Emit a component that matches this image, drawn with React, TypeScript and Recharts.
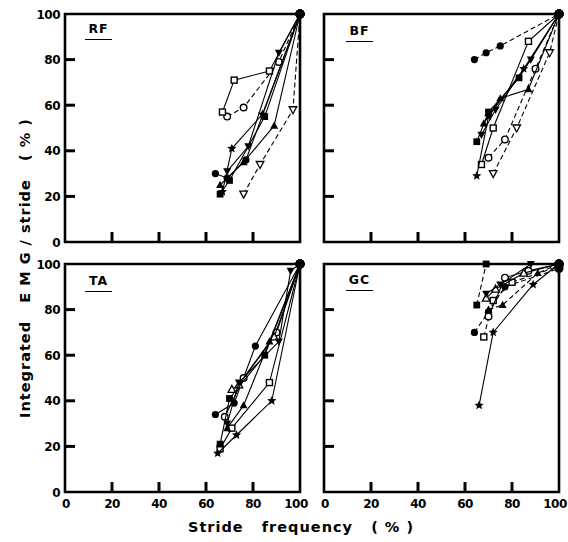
import React from 'react';
import { ScatterChart, Scatter, XAxis, YAxis, ReferenceArea } from 'recharts';

type P = { x: number; y: number };

const xTicks = [0, 20, 40, 60, 80, 100];
const yTicks = [0, 20, 40, 60, 80, 100];
const panelNames = ['RF', 'BF', 'TA', 'GC'];

// ---- RF ----
const rfFilledCircle: P[] = [{ x: 64, y: 30 }, { x: 69, y: 28 }, { x: 77, y: 36 }, { x: 100, y: 100 }];
const rfOpenCircle: P[] = [{ x: 69, y: 55 }, { x: 76, y: 59 }, { x: 91, y: 79 }, { x: 100, y: 100 }];
const rfOpenSquare: P[] = [{ x: 67, y: 57 }, { x: 72, y: 71 }, { x: 87, y: 75 }, { x: 100, y: 100 }];
const rfOpenTriDown: P[] = [{ x: 76, y: 21 }, { x: 83, y: 34 }, { x: 97, y: 58 }, { x: 100, y: 100 }];
const rfStar: P[] = [{ x: 67, y: 22 }, { x: 71, y: 41 }, { x: 84, y: 56 }, { x: 100, y: 100 }];
const rfFilledTri: P[] = [{ x: 66, y: 25 }, { x: 76, y: 35 }, { x: 89, y: 51 }, { x: 100, y: 100 }];
const rfFilledSquare: P[] = [{ x: 66, y: 21 }, { x: 70, y: 27 }, { x: 85, y: 55 }, { x: 100, y: 100 }];
const rfFilledTriDown: P[] = [{ x: 69, y: 31 }, { x: 78, y: 42 }, { x: 91, y: 83 }, { x: 100, y: 100 }];

// ---- BF ----
const bfFilledCircle: P[] = [{ x: 64, y: 80 }, { x: 69, y: 83 }, { x: 75, y: 86 }, { x: 100, y: 100 }];
const bfOpenSquare: P[] = [{ x: 67, y: 34 }, { x: 72, y: 50 }, { x: 87, y: 88 }, { x: 100, y: 100 }];
const bfOpenCircle: P[] = [{ x: 70, y: 37 }, { x: 77, y: 45 }, { x: 90, y: 76 }, { x: 100, y: 100 }];
const bfOpenTriDown: P[] = [{ x: 72, y: 30 }, { x: 82, y: 50 }, { x: 96, y: 83 }, { x: 100, y: 100 }];
const bfStar: P[] = [{ x: 65, y: 29 }, { x: 70, y: 55 }, { x: 85, y: 76 }, { x: 100, y: 100 }];
const bfFilledTri: P[] = [{ x: 68, y: 52 }, { x: 75, y: 63 }, { x: 87, y: 67 }, { x: 100, y: 100 }];
const bfFilledSquare: P[] = [{ x: 65, y: 44 }, { x: 70, y: 57 }, { x: 83, y: 72 }, { x: 100, y: 100 }];
const bfFilledTriDown: P[] = [{ x: 67, y: 47 }, { x: 73, y: 58 }, { x: 88, y: 80 }, { x: 100, y: 100 }];

// ---- TA ----
const taFilledCircle: P[] = [{ x: 64, y: 34 }, { x: 72, y: 39 }, { x: 81, y: 64 }, { x: 100, y: 100 }];
const taOpenCircle: P[] = [{ x: 68, y: 33 }, { x: 76, y: 50 }, { x: 90, y: 70 }, { x: 100, y: 100 }];
const taOpenSquare: P[] = [{ x: 66, y: 19 }, { x: 71, y: 28 }, { x: 87, y: 48 }, { x: 100, y: 100 }];
const taStar: P[] = [{ x: 65, y: 17 }, { x: 73, y: 25 }, { x: 88, y: 40 }, { x: 100, y: 100 }];
const taOpenTri: P[] = [{ x: 71, y: 45 }, { x: 74, y: 47 }, { x: 89, y: 68 }, { x: 100, y: 100 }];
const taFilledTri: P[] = [{ x: 69, y: 28 }, { x: 76, y: 38 }, { x: 87, y: 66 }, { x: 100, y: 100 }];
const taFilledSquare: P[] = [{ x: 66, y: 21 }, { x: 70, y: 41 }, { x: 85, y: 60 }, { x: 100, y: 100 }];
const taFilledTriDown: P[] = [{ x: 69, y: 30 }, { x: 74, y: 48 }, { x: 91, y: 66 }, { x: 96, y: 97 }, { x: 100, y: 100 }];

// ---- GC ----
const gcFilledCircle: P[] = [{ x: 64, y: 70 }, { x: 70, y: 79 }, { x: 77, y: 90 }, { x: 100, y: 98 }];
const gcOpenSquare: P[] = [{ x: 68, y: 68 }, { x: 72, y: 84 }, { x: 80, y: 92 }, { x: 100, y: 99 }];
const gcStar: P[] = [{ x: 66, y: 38 }, { x: 72, y: 70 }, { x: 89, y: 91 }, { x: 100, y: 100 }];
const gcFilledSquare: P[] = [{ x: 65, y: 82 }, { x: 69, y: 100 }];
const gcOpenCircle: P[] = [{ x: 70, y: 77 }, { x: 77, y: 94 }, { x: 87, y: 97 }, { x: 100, y: 100 }];
const gcFilledTri: P[] = [{ x: 70, y: 80 }, { x: 76, y: 82 }, { x: 91, y: 96 }, { x: 100, y: 100 }];
const gcOpenTri: P[] = [{ x: 69, y: 85 }, { x: 73, y: 89 }, { x: 85, y: 96 }, { x: 100, y: 100 }];
const gcFilledTriDown: P[] = [{ x: 69, y: 87 }, { x: 75, y: 91 }, { x: 88, y: 100 }, { x: 100, y: 100 }];

type Kind = 'fc' | 'oc' | 'fs' | 'os' | 'ft' | 'ot' | 'otd' | 'ftd' | 'star';
type Series = { data: P[]; kind: Kind; dashed: boolean };

const rfSeries: Series[] = [
  { data: rfFilledCircle, kind: 'fc', dashed: false },
  { data: rfOpenCircle, kind: 'oc', dashed: true },
  { data: rfOpenSquare, kind: 'os', dashed: false },
  { data: rfOpenTriDown, kind: 'otd', dashed: true },
  { data: rfStar, kind: 'star', dashed: false },
  { data: rfFilledTri, kind: 'ft', dashed: false },
  { data: rfFilledSquare, kind: 'fs', dashed: false },
  { data: rfFilledTriDown, kind: 'ftd', dashed: false },
];
const bfSeries: Series[] = [
  { data: bfFilledCircle, kind: 'fc', dashed: true },
  { data: bfOpenSquare, kind: 'os', dashed: false },
  { data: bfOpenCircle, kind: 'oc', dashed: true },
  { data: bfOpenTriDown, kind: 'otd', dashed: true },
  { data: bfStar, kind: 'star', dashed: false },
  { data: bfFilledTri, kind: 'ft', dashed: false },
  { data: bfFilledSquare, kind: 'fs', dashed: false },
  { data: bfFilledTriDown, kind: 'ftd', dashed: false },
];
const taSeries: Series[] = [
  { data: taFilledCircle, kind: 'fc', dashed: false },
  { data: taOpenCircle, kind: 'oc', dashed: false },
  { data: taOpenSquare, kind: 'os', dashed: false },
  { data: taStar, kind: 'star', dashed: false },
  { data: taOpenTri, kind: 'ot', dashed: false },
  { data: taFilledTri, kind: 'ft', dashed: false },
  { data: taFilledSquare, kind: 'fs', dashed: false },
  { data: taFilledTriDown, kind: 'ftd', dashed: false },
];
const gcSeries: Series[] = [
  { data: gcFilledCircle, kind: 'fc', dashed: true },
  { data: gcOpenSquare, kind: 'os', dashed: true },
  { data: gcStar, kind: 'star', dashed: false },
  { data: gcFilledSquare, kind: 'fs', dashed: true },
  { data: gcOpenCircle, kind: 'oc', dashed: false },
  { data: gcFilledTri, kind: 'ft', dashed: true },
  { data: gcOpenTri, kind: 'ot', dashed: false },
  { data: gcFilledTriDown, kind: 'ftd', dashed: false },
];

const FONT = "'DejaVu Sans', sans-serif";

function starPath(cx: number, cy: number, ro: number, ri: number) {
  let d = '';
  for (let i = 0; i < 10; i++) {
    const r = i % 2 === 0 ? ro : ri;
    const a = -Math.PI / 2 + (i * Math.PI) / 5;
    d += (i === 0 ? 'M' : 'L') + (cx + r * Math.cos(a)).toFixed(2) + ',' + (cy + r * Math.sin(a)).toFixed(2);
  }
  return d + 'Z';
}

function Marker({ cx, cy, kind, corner }: { cx: number; cy: number; kind: Kind; corner: boolean }) {
  if (cx == null || cy == null) return null;
  if (corner) return <circle cx={cx} cy={cy} r={4.5} fill="#000" />;
  const s = 3.4;
  switch (kind) {
    case 'fc':
      return <circle cx={cx} cy={cy} r={3.6} fill="#000" />;
    case 'oc':
      return <circle cx={cx} cy={cy} r={3.3} fill="#fff" stroke="#000" strokeWidth={1.4} />;
    case 'fs':
      return <rect x={cx - s} y={cy - s} width={2 * s} height={2 * s} fill="#000" />;
    case 'os':
      return <rect x={cx - 3} y={cy - 3} width={6} height={6} fill="#fff" stroke="#000" strokeWidth={1.4} />;
    case 'ft':
      return <path d={`M${cx},${cy - 4.2}L${cx + 4},${cy + 3}L${cx - 4},${cy + 3}Z`} fill="#000" />;
    case 'ot':
      return <path d={`M${cx},${cy - 4}L${cx + 3.8},${cy + 3}L${cx - 3.8},${cy + 3}Z`} fill="#fff" stroke="#000" strokeWidth={1.3} />;
    case 'otd':
      return <path d={`M${cx},${cy + 4}L${cx + 3.8},${cy - 3}L${cx - 3.8},${cy - 3}Z`} fill="#fff" stroke="#000" strokeWidth={1.3} />;
    case 'ftd':
      return <path d={`M${cx},${cy + 4.2}L${cx + 4},${cy - 3}L${cx - 4},${cy - 3}Z`} fill="#000" />;
    case 'star':
      return <path d={starPath(cx, cy, 4.8, 2.2)} fill="#000" />;
  }
  return null;
}

const PW = 235; // plot width
const PH = 228; // plot height
const ML = 45;
const MT = 10;
const MR = 20;
const XH = 30;

function XTick(props: any) {
  const { x, y, payload, show } = props;
  const v = payload.value;
  const tx = v === 100 ? x - 4 : v === 0 ? x + 1 : x;
  return (
    <g>
      {v > 0 && v < 100 && <line x1={x} x2={x} y1={y} y2={y - 10} stroke="#000" strokeWidth={3} />}
      {show && (
        <text x={tx} y={y + 16} textAnchor="middle" fontFamily={FONT} fontWeight="bold" fontSize={12} letterSpacing={-0.5} fill="#000">
          {v}
        </text>
      )}
    </g>
  );
}

function YTick(props: any) {
  const { x, y, payload, show } = props;
  const v = payload.value;
  return (
    <g>
      {v > 0 && v < 100 && <line x1={x} x2={x + 10} y1={y} y2={y} stroke="#000" strokeWidth={3} />}
      {show && (
        <text x={x - 5} y={y + 4.5} textAnchor="end" fontFamily={FONT} fontWeight="bold" fontSize={12} letterSpacing={-0.5} fill="#000">
          {v}
        </text>
      )}
    </g>
  );
}

function Panel({ left, top, series, showX, showY }: { left: number; top: number; series: Series[]; showX: boolean; showY: boolean }) {
  return (
    <div style={{ position: 'absolute', left: left - ML, top: top - MT }}>
      <ScatterChart width={PW + ML + MR} height={PH + MT + XH} margin={{ top: MT, right: MR, bottom: 0, left: 0 }}>
        <XAxis
          type="number"
          dataKey="x"
          domain={[0, 100]}
          ticks={xTicks}
          interval={0}
          height={XH}
          axisLine={false}
          tickLine={false}
          tickSize={0}
          tickMargin={0}
          tick={(p: any) => <XTick {...p} show={showX} />}
        />
        <YAxis
          type="number"
          dataKey="y"
          domain={[0, 100]}
          ticks={yTicks}
          interval={0}
          width={ML}
          axisLine={false}
          tickLine={false}
          tickSize={0}
          tickMargin={0}
          tick={(p: any) => <YTick {...p} show={showY} />}
        />
        <ReferenceArea x1={0} x2={100} y1={0} y2={100} stroke="#000" strokeWidth={2.6} fill="none" fillOpacity={0} />
        {series.map((s, i) => (
          <Scatter
            key={i}
            data={s.data}
            isAnimationActive={false}
            line={{ stroke: '#000', strokeWidth: 1.1, strokeDasharray: s.dashed ? '5 3' : undefined }}
            lineType="joint"
            shape={(p: any) => (
              <Marker
                cx={p.cx}
                cy={p.cy}
                kind={s.kind}
                corner={p.payload && p.payload.x === 100 && p.payload.y >= 98}
              />
            )}
          />
        ))}
      </ScatterChart>
    </div>
  );
}

function PanelLabel({ left, top, text }: { left: number; top: number; text: string }) {
  return (
    <div
      style={{
        position: 'absolute',
        left,
        top,
        width: 27,
        textAlign: 'center',
        fontFamily: FONT,
        fontWeight: 'bold',
        fontSize: 12.5,
        lineHeight: '14px',
        letterSpacing: 1,
        paddingBottom: 3,
        borderBottom: '1.6px solid #000',
        color: '#000',
      }}
    >
      {text}
    </div>
  );
}

export default function App() {
  return (
    <div style={{ position: 'absolute', left: 0, top: 0, width: 568, height: 542, background: '#fff', overflow: 'hidden' }}>
      <Panel left={65} top={14} series={rfSeries} showX={false} showY={true} />
      <Panel left={324} top={14} series={bfSeries} showX={false} showY={false} />
      <Panel left={65} top={264} series={taSeries} showX={true} showY={true} />
      <Panel left={324} top={264} series={gcSeries} showX={true} showY={false} />
      <PanelLabel left={85} top={22} text={panelNames[0]} />
      <PanelLabel left={346} top={24} text={panelNames[1]} />
      <PanelLabel left={85} top={274} text={panelNames[2]} />
      <PanelLabel left={346} top={273} text={panelNames[3]} />
      <div
        style={{
          position: 'absolute',
          left: 301 - 150,
          top: 519,
          width: 300,
          textAlign: 'center',
          fontFamily: FONT,
          fontWeight: 'bold',
          fontSize: 14.5,
          letterSpacing: 1,
          whiteSpace: 'pre',
          color: '#000',
        }}
      >
        {'Stride   frequency   ( % )'}
      </div>
      <div
        style={{
          position: 'absolute',
          left: 25 - 160,
          top: 268 - 10,
          width: 320,
          height: 20,
          lineHeight: '20px',
          textAlign: 'center',
          transform: 'rotate(-90deg)',
          transformOrigin: '50% 50%',
          fontFamily: FONT,
          fontWeight: 'bold',
          fontSize: 14.5,
          letterSpacing: 1,
          whiteSpace: 'pre',
          color: '#000',
        }}
      >
        {'Integrated   E M G / stride   ( % )'}
      </div>
    </div>
  );
}
